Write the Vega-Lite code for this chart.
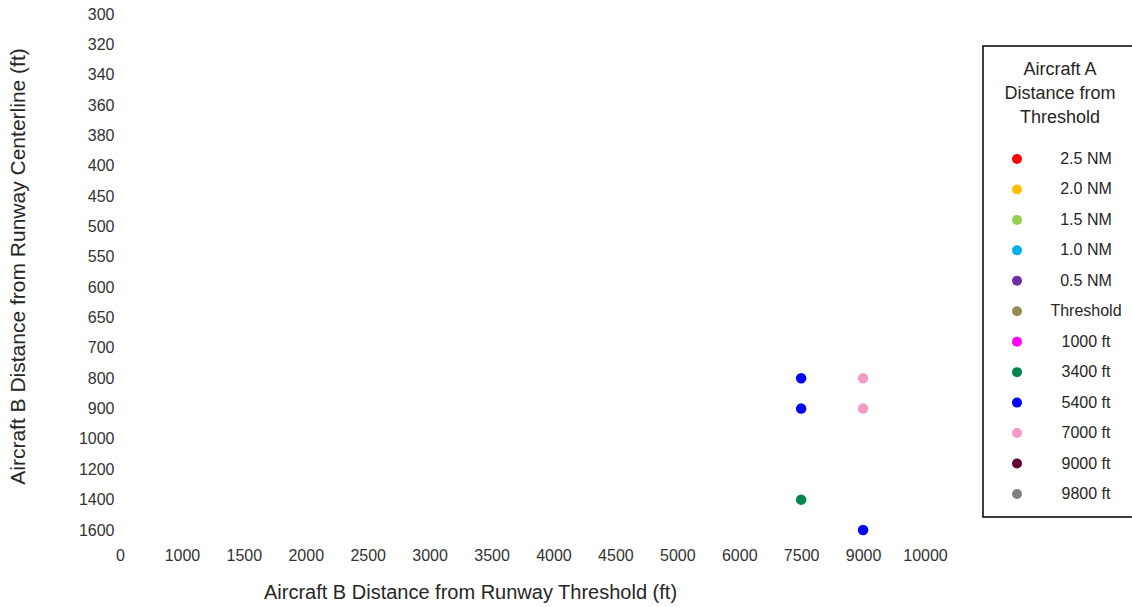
{
  "$schema": "https://vega.github.io/schema/vega-lite/v6.json",
  "width": 805,
  "height": 516,
  "autosize": {"type": "none"},
  "padding": {"left": 120, "top": 14, "right": 207, "bottom": 77},
  "background": "white",
  "config": {
    "view": {"stroke": null},
    "font": "Liberation Sans",
    "legend": {"strokeWidth": 1.5}
  },
  "data": {
    "values": [
      {"bdist": 7500, "bcl": 800, "adist": "5400 ft"},
      {"bdist": 7500, "bcl": 900, "adist": "5400 ft"},
      {"bdist": 9000, "bcl": 800, "adist": "7000 ft"},
      {"bdist": 9000, "bcl": 900, "adist": "7000 ft"},
      {"bdist": 7500, "bcl": 1400, "adist": "3400 ft"},
      {"bdist": 9000, "bcl": 1600, "adist": "5400 ft"}
    ]
  },
  "mark": {"type": "circle", "size": 110, "opacity": 1, "clip": false},
  "encoding": {
    "x": {
      "field": "bdist",
      "type": "ordinal",
      "scale": {"type": "point", "padding": 0, "domain": [0, 1000, 1500, 2000, 2500, 3000, 3500, 4000, 4500, 5000, 6000, 7500, 9000, 10000]},
      "axis": {
        "title": "Aircraft B Distance from Runway Threshold (ft)",
        "domain": false, "ticks": false, "grid": false,
        "labelAngle": 0, "labelFontSize": 16, "labelColor": "#333333",
        "labelBaseline": "middle", "labelPadding": 25,
        "titleFontSize": 20, "titleFontWeight": "normal", "titleColor": "#262626",
        "titleX": 350, "titleY": 62, "titleBaseline": "middle"
      }
    },
    "y": {
      "field": "bcl",
      "type": "ordinal",
      "scale": {"type": "point", "padding": 0, "domain": [300, 320, 340, 360, 380, 400, 450, 500, 550, 600, 650, 700, 800, 900, 1000, 1200, 1400, 1600]},
      "axis": {
        "title": "Aircraft B Distance from Runway Centerline (ft)",
        "domain": false, "ticks": false, "grid": false,
        "labelFontSize": 16, "labelColor": "#333333", "labelPadding": 6,
        "titleFontSize": 21, "titleFontWeight": "normal", "titleColor": "#262626",
        "titleX": -102, "titleY": 252, "titleBaseline": "middle", "titleAngle": -90
      }
    },
    "color": {
      "field": "adist",
      "type": "nominal",
      "scale": {
        "domain": ["2.5 NM", "2.0 NM", "1.5 NM", "1.0 NM", "0.5 NM", "Threshold", "1000 ft", "3400 ft", "5400 ft", "7000 ft", "9000 ft", "9800 ft"],
        "range": ["#ff0000", "#ffc000", "#92d050", "#00b0f0", "#7030a0", "#948a54", "#ff00ff", "#00864a", "#0000ff", "#f59ac5", "#660033", "#808080"]
      },
      "legend": {
        "title": ["Aircraft A", "Distance from", "Threshold"],
        "orient": "none",
        "legendX": 863,
        "legendY": 32,
        "strokeColor": "#000000",
        "fillColor": "white",
        "padding": 15,
        "titleFontSize": 18,
        "titleFontWeight": "normal",
        "titleColor": "#262626",
        "titleLineHeight": 24,
        "titleAlign": "center",
        "titleAnchor": "middle",
        "titlePadding": 24,
        "symbolType": "circle",
        "symbolSize": 100,
        "symbolOffset": 11,
        "symbolStrokeWidth": 0,
        "labelFontSize": 16,
        "labelColor": "#262626",
        "labelAlign": "center",
        "labelOffset": 61,
        "rowPadding": 14.45,
        "symbolOpacity": 1
      }
    }
  }
}
